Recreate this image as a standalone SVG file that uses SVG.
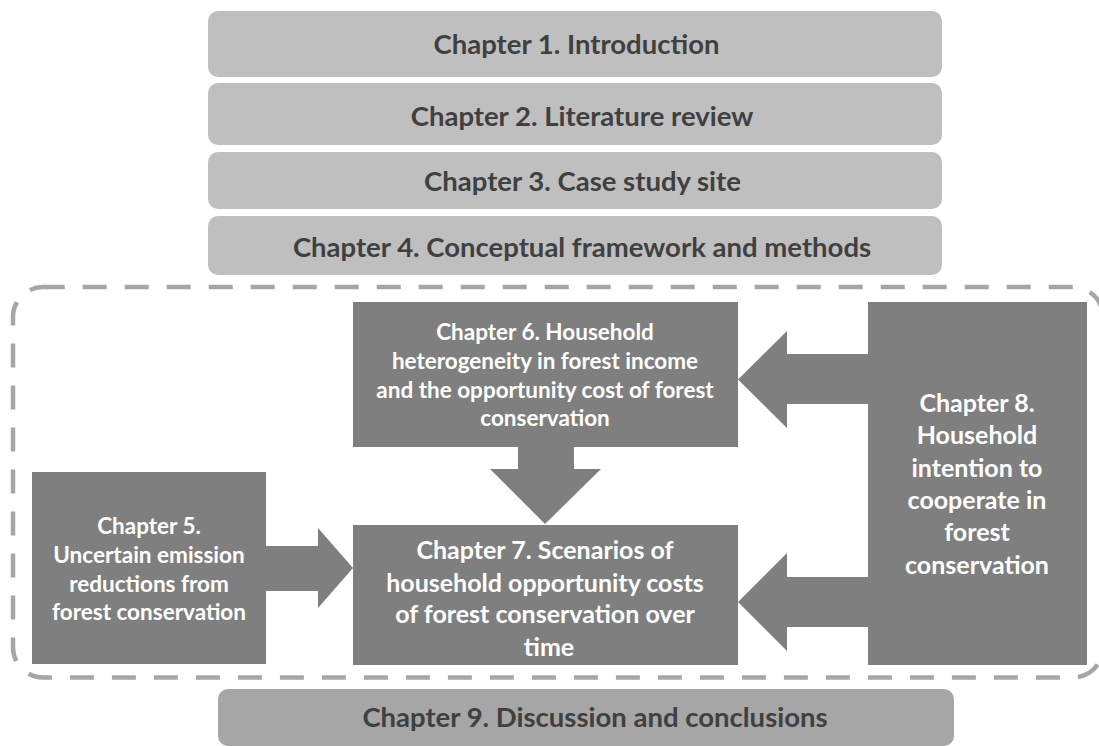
<svg xmlns="http://www.w3.org/2000/svg" width="1099" height="746" viewBox="0 0 1099 746">
<style>
.top{fill:#bfbfbf}
.c9{fill:#a6a6a6}
.dark{fill:#7f7f7f}
.t{font-family:Lato,"Open Sans","Liberation Sans",sans-serif;font-weight:bold;text-anchor:middle}
.tt{fill:#404040;font-size:27.5px}
.w{fill:#ffffff}
.s{font-size:22.5px}
.l{font-size:25px}
.arrow{fill:#7f7f7f}
.frame{fill:none;stroke:#a6a6a6;stroke-width:4.5;stroke-dasharray:24 18;stroke-dashoffset:2.3}
</style>
<rect class="frame" x="13" y="287" width="1090" height="390.5" rx="30" ry="30"/>
<g id="ch1"><rect class="top" x="208" y="11" width="734" height="66" rx="10"/><text class="t tt" x="576.5" y="53.5">Chapter 1. Introduction</text></g>
<g id="ch2"><rect class="top" x="208" y="83" width="734" height="62" rx="10"/><text class="t tt" x="582" y="125.5">Chapter 2. Literature review</text></g>
<g id="ch3"><rect class="top" x="208" y="152" width="734" height="57" rx="10"/><text class="t tt" x="582.5" y="191">Chapter 3. Case study site</text></g>
<g id="ch4"><rect class="top" x="208" y="216" width="734" height="59" rx="10"/><text class="t tt" x="582" y="256.5">Chapter 4. Conceptual framework and methods</text></g>
<g id="connectors">
<polygon class="arrow" points="266,546 318,546 318,528 353,568 318,608 318,591 266,591"/>
<polygon class="arrow" points="518,447 574,447 574,469 601,469 545,524 490,469 518,469"/>
<polygon class="arrow" points="868,354 787,354 787,331 738,379.5 787,428 787,404 868,404"/>
<polygon class="arrow" points="868,577 787,577 787,553 738,602 787,651 787,627 868,627"/>
</g>
<g id="ch5"><rect class="dark" x="32" y="472" width="234" height="192"/>
<text class="t w s" x="149"><tspan x="149" y="534">Chapter 5.</tspan><tspan x="149" y="563">Uncertain emission</tspan><tspan x="149" y="591.7">reductions from</tspan><tspan x="149" y="620">forest conservation</tspan></text></g>
<g id="ch6"><rect class="dark" x="353" y="302" width="385" height="145"/>
<text class="t w s" x="545"><tspan x="545" y="340">Chapter 6. Household</tspan><tspan x="545" y="368.7">heterogeneity in forest income</tspan><tspan x="545" y="397.7">and the opportunity cost of forest</tspan><tspan x="545" y="426">conservation</tspan></text></g>
<g id="ch7"><rect class="dark" x="353" y="525" width="385" height="140"/>
<text class="t w l" x="545"><tspan x="545" y="559.3">Chapter 7. Scenarios of</tspan><tspan x="545" y="591.7">household opportunity costs</tspan><tspan x="545" y="623.3">of forest conservation over</tspan><tspan x="549" y="655.7">time</tspan></text></g>
<g id="ch8"><rect class="dark" x="868" y="302" width="219" height="363"/>
<text class="t w l" x="977"><tspan x="977" y="411.7">Chapter 8.</tspan><tspan x="977" y="444">Household</tspan><tspan x="977" y="476.7">intention to</tspan><tspan x="977" y="509">cooperate in</tspan><tspan x="977" y="540.7">forest</tspan><tspan x="977" y="574">conservation</tspan></text></g>
<g id="ch9"><rect class="c9" x="218" y="689" width="736" height="57" rx="10"/><text class="t tt" x="595" y="727">Chapter 9. Discussion and conclusions</text></g>
</svg>
